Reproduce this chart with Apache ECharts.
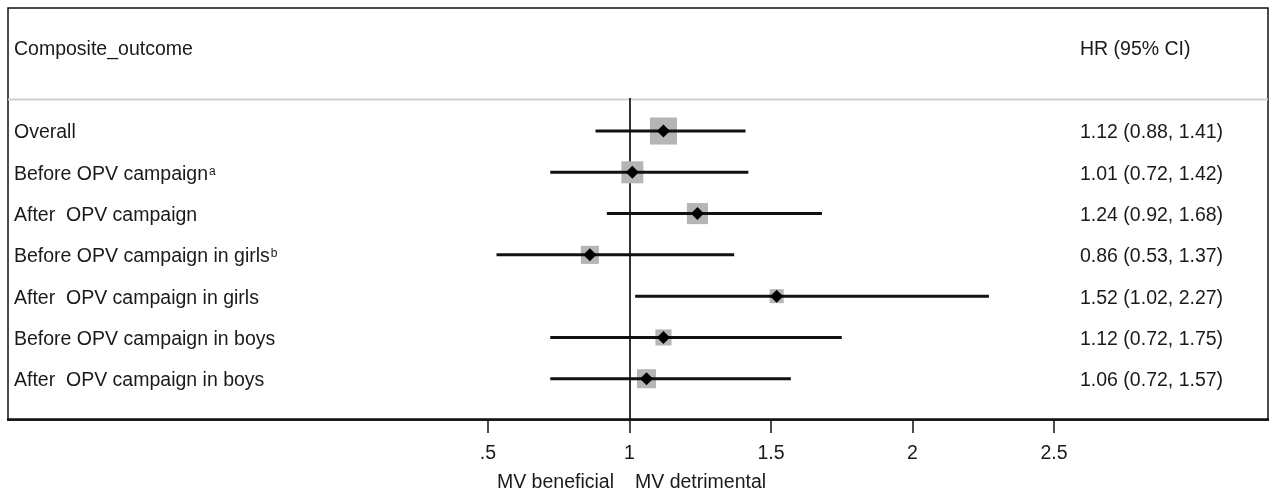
<!DOCTYPE html>
<html>
<head>
<meta charset="utf-8">
<style>
html,body{margin:0;padding:0;background:#fff;}
#chart{width:1273px;height:493px;}
</style>
<script src="https://cdn.jsdelivr.net/npm/echarts@6/dist/echarts.min.js"></script>
</head>
<body>
<div id="chart"></div>
<script>
// ---- data ----
var labels = ['Overall', 'Before OPV campaign', 'After  OPV campaign', 'Before OPV campaign in girls',
  'After  OPV campaign in girls', 'Before OPV campaign in boys', 'After  OPV campaign in boys'];
var footnotes = ['', 'a', '', 'b', '', '', ''];
var hr = [1.12, 1.01, 1.24, 0.86, 1.52, 1.12, 1.06];
var lo = [0.88, 0.72, 0.92, 0.53, 1.02, 0.72, 0.72];
var hi = [1.41, 1.42, 1.68, 1.37, 2.27, 1.75, 1.57];
var weights = [26.1, 17.3, 15.8, 11.6, 7.0, 9.2, 12.9];
var xTicks = [0.5, 1, 1.5, 2, 2.5];
var xTickLabels = ['.5', '1', '1.5', '2', '2.5'];
var headerLeft = 'Composite_outcome';
var headerRight = 'HR (95% CI)';
var favourLeft = 'MV beneficial';
var favourRight = 'MV detrimental';

// ---- build ----
var FONT = '"Liberation Sans", Arial, sans-serif';
var FS = 19.5;
var TXT = '#1a1a1a';
var n = labels.length;
var rows = labels.map(function (l, i) { return i; });

function fmt(v) { return v.toFixed(2); }
var ciText = hr.map(function (h, i) { return fmt(h) + ' (' + fmt(lo[i]) + ', ' + fmt(hi[i]) + ')'; });

var boxData = hr.map(function (h, i) { return [h, i, weights[i]]; });
var pointData = hr.map(function (h, i) { return [h, i]; });
var ciData = hr.map(function (h, i) { return [lo[i], hi[i], i]; });

var chart = echarts.init(document.getElementById('chart'), null, {renderer: 'canvas'});

var option = {
  backgroundColor: '#fff',
  animation: false,
  textStyle: {fontFamily: FONT},
  grid: {left: 488, right: 219, top: 98, bottom: 73, containLabel: false},
  xAxis: {
    type: 'value', min: 0.5, max: 2.5, interval: 0.5,
    axisLine: {show: false, onZero: false},
    axisTick: {show: true, length: 13, lineStyle: {color: '#111', width: 1.5}},
    axisLabel: {
      margin: 24, fontSize: FS, color: TXT, fontFamily: FONT,
      formatter: function (v) {
        var k = xTicks.indexOf(+v.toFixed(2));
        return k >= 0 ? xTickLabels[k] : '';
      }
    },
    splitLine: {show: false}
  },
  yAxis: [{
    type: 'value', min: -0.8, max: 7.0, inverse: true, interval: 1,
    position: 'left',
    axisLine: {show: false, onZero: false}, axisTick: {show: false}, splitLine: {show: false},
    axisLabel: {
      margin: 474, align: 'left', fontSize: FS, color: TXT, fontFamily: FONT,
      padding: [4, 0, 0, 0],
      customValues: rows,
      formatter: function (v) {
        var i = Math.round(v);
        if (i < 0 || i >= n) return '';
        return footnotes[i] ? '{m|' + labels[i] + '}{s|' + footnotes[i] + '}' : '{m|' + labels[i] + '}';
      },
      rich: {
        m: {fontSize: FS, color: TXT, fontFamily: FONT},
        s: {fontSize: 12, color: TXT, fontFamily: FONT, verticalAlign: 'top', padding: [1, 0, 0, 1]}
      }
    }
  }, {
    type: 'value', min: -0.8, max: 7.0, inverse: true, interval: 1,
    position: 'right',
    axisLine: {show: false, onZero: false}, axisTick: {show: false}, splitLine: {show: false},
    axisLabel: {
      margin: 26, align: 'left', fontSize: FS, color: TXT, fontFamily: FONT,
      padding: [4, 0, 0, 0],
      customValues: rows,
      formatter: function (v) {
        var i = Math.round(v);
        return (i >= 0 && i < n) ? '{m|' + ciText[i] + '}' : '';
      },
      rich: {
        m: {fontSize: FS, color: TXT, fontFamily: FONT}
      }
    }
  }],
  series: [{
    type: 'scatter',
    name: 'weight',
    data: boxData,
    symbol: 'rect',
    symbolSize: function (d) { return Math.sqrt(d[2]) * 5.3; },
    itemStyle: {color: '#b5b5b5', opacity: 1},
    z: 2,
    markLine: {
      silent: true, symbol: 'none', label: {show: false},
      lineStyle: {color: '#333', width: 2, type: 'solid'},
      data: [{xAxis: 1}],
      z: 1
    }
  }, {
    type: 'custom',
    name: 'ci',
    data: ciData,
    encode: {x: [0, 1], y: 2},
    renderItem: function (params, api) {
      var a = api.coord([api.value(0), api.value(2)]);
      var b = api.coord([api.value(1), api.value(2)]);
      return {type: 'line', shape: {x1: a[0], y1: a[1], x2: b[0], y2: b[1]},
        style: {stroke: '#111', lineWidth: 3}};
    },
    z: 3
  }, {
    type: 'scatter',
    name: 'hr',
    data: pointData,
    symbol: 'diamond',
    symbolSize: [13, 13],
    itemStyle: {color: '#000', opacity: 1},
    z: 4
  }],
  graphic: [
    {type: 'rect', shape: {x: 8, y: 8, width: 1260, height: 412}, style: {fill: 'none', stroke: '#111', lineWidth: 1.5}, z: 0},
    {type: 'line', shape: {x1: 8, y1: 99.5, x2: 1268, y2: 99.5}, style: {stroke: '#cfcfcf', lineWidth: 2}, z: 0},
    {type: 'line', shape: {x1: 7, y1: 419.5, x2: 1269, y2: 419.5}, style: {stroke: '#111', lineWidth: 2.5}, z: 10},
    {type: 'text', x: 14, y: 50, style: {text: headerLeft, fontSize: FS, fill: TXT, fontFamily: FONT, verticalAlign: 'middle'}},
    {type: 'text', x: 1080, y: 50, style: {text: headerRight, fontSize: FS, fill: TXT, fontFamily: FONT, verticalAlign: 'middle'}},
    {type: 'text', x: 614, y: 483, style: {text: favourLeft, fontSize: FS, fill: TXT, fontFamily: FONT, align: 'right', verticalAlign: 'middle'}},
    {type: 'text', x: 635, y: 483, style: {text: favourRight, fontSize: FS, fill: TXT, fontFamily: FONT, align: 'left', verticalAlign: 'middle'}}
  ]
};
chart.setOption(option);
</script>
</body>
</html>
